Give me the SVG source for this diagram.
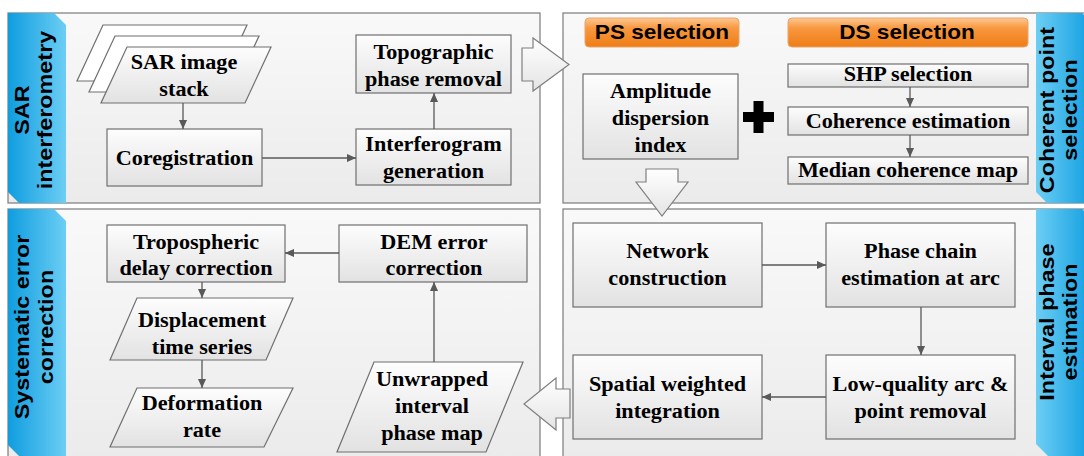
<svg xmlns="http://www.w3.org/2000/svg" width="1084" height="456" viewBox="0 0 1084 456">
<defs>
<linearGradient id="gPanel" x1="0" y1="0" x2="0" y2="1"><stop offset="0" stop-color="#f9f9f9"/><stop offset="1" stop-color="#ebebeb"/></linearGradient>
<linearGradient id="gBox" x1="0" y1="0" x2="0" y2="1"><stop offset="0" stop-color="#fdfdfd"/><stop offset="1" stop-color="#e2e2e2"/></linearGradient>
<linearGradient id="gOrange" x1="0" y1="0" x2="0" y2="1"><stop offset="0" stop-color="#fcc793"/><stop offset="0.35" stop-color="#f8983f"/><stop offset="1" stop-color="#ee7d16"/></linearGradient>
<linearGradient id="gTabL" x1="0" y1="0" x2="1" y2="0"><stop offset="0" stop-color="#0f9ddf"/><stop offset="1" stop-color="#6ccef4"/></linearGradient>
<linearGradient id="gTabR" x1="1" y1="0" x2="0" y2="0"><stop offset="0" stop-color="#0f9ddf"/><stop offset="1" stop-color="#6ccef4"/></linearGradient>
<linearGradient id="gArrow" x1="0" y1="0" x2="0" y2="1"><stop offset="0" stop-color="#ffffff"/><stop offset="1" stop-color="#e4e4e4"/></linearGradient>
<marker id="ah" viewBox="0 0 10 10" refX="10" refY="5" markerWidth="9" markerHeight="9" markerUnits="userSpaceOnUse" orient="auto"><path d="M0,0.5 L10,5 L0,9.5 z" fill="#595959"/></marker>
</defs>
<style>
.panel{fill:url(#gPanel);stroke:#858585;stroke-width:1.3}
.tabL{fill:url(#gTabL)}
.tabR{fill:url(#gTabR)}
.box{fill:url(#gBox);stroke:#6f6f6f;stroke-width:1.2}
.para{fill:url(#gBox);stroke:#6f6f6f;stroke-width:1.2}
.paraB{fill:#ffffff;stroke:#6f6f6f;stroke-width:1.2}
.lbl{fill:url(#gOrange);stroke:#e9a56a;stroke-width:1}
.blk{fill:url(#gArrow);stroke:#7f7f7f;stroke-width:1.2}
.bt{font-weight:bold;font-size:20px;text-anchor:middle;fill:#000}
.st{font-family:"Liberation Sans",Arial,sans-serif;font-weight:bold;font-size:20px;text-anchor:middle;fill:#000}
.conn path{fill:none;stroke:#595959;stroke-width:1.3;marker-end:url(#ah)}
</style>
<rect x="0" y="0" width="1084" height="456" fill="#ffffff"/>

<g id="panel-sar">
<rect class="panel" x="8" y="13" width="532" height="190"/>
<polygon class="tabL" points="8,13 54,13 66,25 66,203 19,203 8,192"/>
<text class="st" transform="translate(29,110) rotate(-90) scale(1.17,1)">SAR</text>
<text class="st" transform="translate(52,110) rotate(-90) scale(1.17,1)">interferometry</text>
</g>
<g id="panel-coherent">
<rect class="panel" x="563" y="13" width="540" height="190"/>
<polygon class="tabR" points="1036,13 1082,13 1094,25 1094,203 1047,203 1036,192"/>
<text class="st" transform="translate(1054,110) rotate(-90) scale(1.17,1)">Coherent point</text>
<text class="st" transform="translate(1077,110) rotate(-90) scale(1.17,1)">selection</text>
</g>
<g id="panel-systematic">
<rect class="panel" x="8" y="209" width="532" height="255"/>
<polygon class="tabL" points="8,209 54,209 66,221 66,456 19,456 8,445"/>
<text class="st" transform="translate(29,327) rotate(-90) scale(1.17,1)">Systematic error</text>
<text class="st" transform="translate(53,327) rotate(-90) scale(1.17,1)">correction</text>
</g>
<g id="panel-interval">
<rect class="panel" x="563" y="209" width="540" height="255"/>
<polygon class="tabR" points="1036,209 1082,209 1094,221 1094,456 1048,456 1036,444"/>
<text class="st" transform="translate(1054,322) rotate(-90) scale(1.17,1)">Interval phase</text>
<text class="st" transform="translate(1077,322) rotate(-90) scale(1.17,1)">estimation</text>
</g>

<g font-family="Liberation Serif, Tinos, Times New Roman, DejaVu Serif, serif">
<g id="sar-stack">
<polygon class="paraB" points="103,25 247,25 221,81 77,81"/>
<polygon class="paraB" points="115,36 259,36 233,92 89,92"/>
<polygon class="para" points="127,47 271,47 245,103 101,103"/>
<text class="bt" transform="translate(184,0) scale(1.11,1)"><tspan x="0" y="69">SAR image</tspan><tspan x="0" y="96">stack</tspan></text>
</g>
<g id="coregistration">
<rect class="box" x="107" y="129" width="155" height="57"/>
<text class="bt" transform="translate(184.5,0) scale(1.11,1)"><tspan x="0" y="165">Coregistration</tspan></text>
</g>
<g id="interferogram">
<rect class="box" x="356" y="129" width="155" height="56"/>
<text class="bt" transform="translate(433.5,0) scale(1.11,1)"><tspan x="0" y="151.5">Interferogram</tspan><tspan x="0" y="178">generation</tspan></text>
</g>
<g id="topographic">
<rect class="box" x="356" y="35" width="155" height="58"/>
<text class="bt" transform="translate(433.5,0) scale(1.11,1)"><tspan x="0" y="59">Topographic</tspan><tspan x="0" y="86">phase removal</tspan></text>
</g>

<g id="ps-label">
<rect class="lbl" x="585" y="18" width="154" height="29" rx="4"/>
<text class="st" transform="translate(662,38.5) scale(1.13,1)">PS selection</text>
</g>
<g id="ds-label">
<rect class="lbl" x="788" y="18" width="240" height="29" rx="4"/>
<text class="st" transform="translate(907,38.5) scale(1.13,1)">DS selection</text>
</g>
<g id="amplitude">
<rect class="box" x="583" y="74" width="155" height="85"/>
<text class="bt" transform="translate(660.5,0) scale(1.11,1)"><tspan x="0" y="98">Amplitude</tspan><tspan x="0" y="125">dispersion</tspan><tspan x="0" y="152">index</tspan></text>
</g>
<g id="plus">
<path d="M743,112 H774 V122 H743 Z M753.5,101 H763.5 V133 H753.5 Z" fill="#000"/>
</g>
<g id="shp">
<rect class="box" x="788" y="64" width="240" height="23"/>
<text class="bt" transform="translate(908,0) scale(1.11,1)"><tspan x="0" y="81">SHP selection</tspan></text>
</g>
<g id="coherence">
<rect class="box" x="788" y="107" width="240" height="28"/>
<text class="bt" transform="translate(908,0) scale(1.11,1)"><tspan x="0" y="128">Coherence estimation</tspan></text>
</g>
<g id="median">
<rect class="box" x="788" y="157" width="240" height="27"/>
<text class="bt" transform="translate(908,0) scale(1.11,1)"><tspan x="0" y="177.5">Median coherence map</tspan></text>
</g>

<g id="tropospheric">
<rect class="box" x="107" y="225" width="178" height="57"/>
<text class="bt" transform="translate(196,0) scale(1.11,1)"><tspan x="0" y="249">Tropospheric</tspan><tspan x="0" y="275">delay correction</tspan></text>
</g>
<g id="dem">
<rect class="box" x="339" y="225" width="188" height="57"/>
<text class="bt" transform="translate(434,0) scale(1.11,1)"><tspan x="0" y="249">DEM error</tspan><tspan x="0" y="275">correction</tspan></text>
</g>
<g id="displacement">
<polygon class="para" points="137,298 293,298 266,360 110,360"/>
<text class="bt" transform="translate(202,0) scale(1.11,1)"><tspan x="0" y="327">Displacement</tspan><tspan x="0" y="354">time series</tspan></text>
</g>
<g id="deformation">
<polygon class="para" points="137,388 293,388 264,447 110,447"/>
<text class="bt" transform="translate(202,0) scale(1.11,1)"><tspan x="0" y="410">Deformation</tspan><tspan x="0" y="437">rate</tspan></text>
</g>
<g id="unwrapped">
<polygon class="para" points="374,362 523,362 486,452 337,452"/>
<text class="bt" transform="translate(432,0) scale(1.11,1)"><tspan x="0" y="386">Unwrapped</tspan><tspan x="0" y="413">interval</tspan><tspan x="0" y="440">phase map</tspan></text>
</g>

<g id="network">
<rect class="box" x="573" y="223" width="189" height="84"/>
<text class="bt" transform="translate(667.5,0) scale(1.11,1)"><tspan x="0" y="258">Network</tspan><tspan x="0" y="285">construction</tspan></text>
</g>
<g id="phase-chain">
<rect class="box" x="826" y="223" width="189" height="84"/>
<text class="bt" transform="translate(920.5,0) scale(1.11,1)"><tspan x="0" y="258">Phase chain</tspan><tspan x="0" y="285">estimation at arc</tspan></text>
</g>
<g id="spatial">
<rect class="box" x="573" y="355" width="189" height="84"/>
<text class="bt" transform="translate(667.5,0) scale(1.11,1)"><tspan x="0" y="391">Spatial weighted</tspan><tspan x="0" y="418">integration</tspan></text>
</g>
<g id="low-quality">
<rect class="box" x="826" y="355" width="189" height="84"/>
<text class="bt" transform="translate(920.5,0) scale(1.11,1)"><tspan x="0" y="391">Low-quality arc &amp;</tspan><tspan x="0" y="418">point removal</tspan></text>
</g>
</g>

<g id="connectors" class="conn">
<path d="M183,103 V129"/>
<path d="M262,158 H356"/>
<path d="M434,129 V93"/>
<path d="M910,87 V107"/>
<path d="M910,135 V157"/>
<path d="M339,253 H285"/>
<path d="M202,282 V298"/>
<path d="M202,360 V388"/>
<path d="M434,362 V282"/>
<path d="M762,265 H826"/>
<path d="M921,307 V355"/>
<path d="M826,397 H762"/>
<polygon class="blk" points="522,48 533,48 533,38 569,64.5 533,91 533,81 522,81"/>
<polygon class="blk" points="646,169 678,169 678,182 688,182 662,216 636,182 646,182"/>
<polygon class="blk" points="570,389 556,389 556,378 524,404 556,430 556,418 570,418"/>
</g>
</svg>
